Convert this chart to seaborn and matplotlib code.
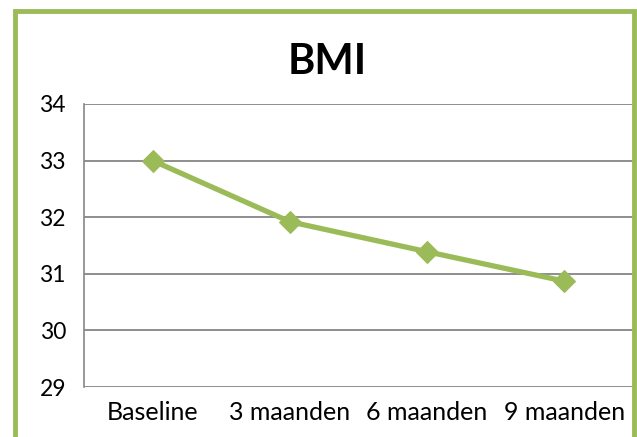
import matplotlib
matplotlib.use("Agg")
import matplotlib.pyplot as plt
import seaborn as sns
import pandas as pd
from matplotlib.patches import Rectangle

# BMI measurements over time
periods = ["Baseline", "3 maanden", "6 maanden", "9 maanden"]
bmi = [33.0, 31.92, 31.39, 30.87]
y_ticks = [29, 30, 31, 32, 33, 34]

green = "#9BBB59"
grid_gray = "#868686"

sns.set_theme(style="white")
plt.rcParams["font.family"] = ["Lato", "DejaVu Sans"]

W, H = 637, 437
fig = plt.figure(figsize=(W / 100, H / 100), dpi=100)
ax = fig.add_axes([84 / W, 1 - 387 / H, (633 - 84) / W, (387 - 104) / H])

df = pd.DataFrame({"period": periods, "bmi": bmi})
sns.lineplot(data=df, x="period", y="bmi", ax=ax, color=green, linewidth=3.8,
             marker="D", markersize=11, markeredgecolor=green, sort=False, zorder=3)

ax.set_ylim(y_ticks[0], y_ticks[-1])
ax.set_xlim(-0.5, len(periods) - 0.5)
ax.set_yticks(y_ticks)
ax.set_yticklabels([str(t) for t in y_ticks], fontsize=16.5, color="#000000")

# Category labels centered, tick marks at category boundaries
ax.set_xticks(range(len(periods)))
ax.set_xticklabels(periods, fontsize=18, color="#000000")
ax.tick_params(axis="x", which="major", length=0, pad=10)
ax.set_xticks([i - 0.5 for i in range(len(periods) + 1)], minor=True)
ax.tick_params(axis="x", which="minor", length=8, width=1.2, color=grid_gray, direction="out")
ax.tick_params(axis="y", length=8, width=1.3, color=grid_gray, direction="out", pad=5)

ax.yaxis.grid(True, color=grid_gray, linewidth=1.3)
ax.xaxis.grid(False)
ax.set_axisbelow(True)
for side in ["top", "right", "bottom"]:
    ax.spines[side].set_visible(False)
ax.spines["left"].set_color(grid_gray)
ax.spines["left"].set_linewidth(1.2)
ax.set_xlabel("")
ax.set_ylabel("")

fig.text(327 / W, 1 - 62 / H, "BMI", fontsize=30, fontweight="bold",
         ha="center", va="center", color="#000000")

# Chart frame
fig.patches.append(Rectangle((15 / W, -0.1), (634 - 15) / W, 1 - 11 / H + 0.1,
                             transform=fig.transFigure, fill=False,
                             edgecolor=green, linewidth=3.5, zorder=10))

fig.savefig("out.png", dpi=100)
